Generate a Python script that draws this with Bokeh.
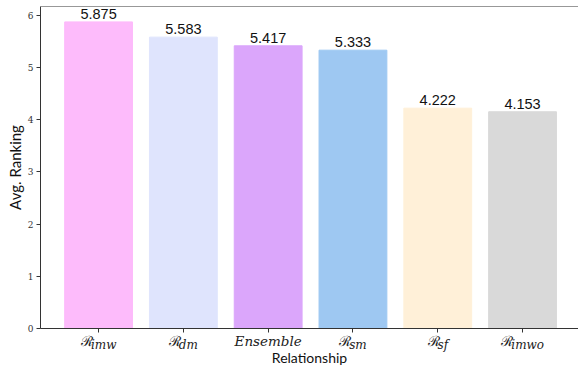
from bokeh.plotting import figure
from bokeh.layouts import column
from bokeh.models import ColumnDataSource, LinearAxis, Range1d, FixedTicker, Span
from bokeh.core.properties import value
from bokeh.embed import file_html
from bokeh.resources import INLINE

# data
mains = ["ℛ", "ℛ", "Ensemble", "ℛ", "ℛ", "ℛ"]
subs = ["imw", "dm", "", "sm", "sf", "imwo"]
scores = [5.875, 5.583, 5.417, 5.333, 4.222, 4.153]
score_labels = ["5.875", "5.583", "5.417", "5.333", "4.222", "4.153"]
colors = ["#FDBBFB", "#DFE4FD", "#DBA6FB", "#9EC8F2", "#FFF0D8", "#D9D9D9"]
y_ticks = [0, 1, 2, 3, 4, 5, 6]
x_title = "Relationship"
y_title = "Avg. Ranking"
y_max = 6.17

xs = list(range(len(scores)))
src = ColumnDataSource(dict(x=xs, top=scores, color=colors, lab=score_labels))
x_range = Range1d(-0.685, 5.66)

# ---------------- main chart ----------------
p = figure(width=578, height=333, output_backend="svg", toolbar_location=None,
           x_range=x_range, y_range=Range1d(0, y_max),
           x_axis_location=None, y_axis_location=None,
           min_border_left=40, min_border_right=0, min_border_top=6, min_border_bottom=5)
p.grid.visible = False
p.outline_line_color = None
p.background_fill_color = "white"

p.vbar(x="x", top="top", width=0.8, color="color", source=src)
p.text(x="x", y="top", text="lab", source=src, text_align="center", text_baseline="middle",
       y_offset=-8, text_font=value("Liberation Sans"), text_font_size="14.5px", text_color="#111111")

ya = LinearAxis(ticker=FixedTicker(ticks=y_ticks), axis_label=y_title)
ya.axis_label_text_font = "Lato"
ya.axis_label_text_font_size = "15px"
ya.axis_label_text_font_style = "normal"
ya.axis_label_text_color = "#111111"
ya.axis_label_standoff = 1
ya.major_label_text_font = "DejaVu Serif"
ya.major_label_text_font_size = "9px"
ya.major_label_text_color = "#333333"
ya.major_label_standoff = 3
ya.major_tick_out = 4
ya.major_tick_in = 0
ya.minor_tick_line_color = None
ya.axis_line_color = "#333333"
ya.major_tick_line_color = "#333333"
p.add_layout(ya, "left")

xa = LinearAxis(ticker=FixedTicker(ticks=xs))
xa.major_label_overrides = {i: "" for i in xs}
xa.major_label_text_font_size = "0px"
xa.major_label_standoff = 0
xa.major_tick_out = 4
xa.major_tick_in = 0
xa.minor_tick_line_color = None
xa.axis_line_color = "#333333"
xa.major_tick_line_color = "#333333"
p.add_layout(xa, "below")

p.add_layout(Span(location=y_max, dimension="width", line_color="#333333", line_width=1))

# ---------------- category labels strip ----------------
H2 = 36
q = figure(width=578, height=H2, output_backend="svg", toolbar_location=None,
           x_range=x_range, y_range=Range1d(0, H2),
           x_axis_location=None, y_axis_location=None,
           min_border_left=40, min_border_right=0, min_border_top=0, min_border_bottom=0)
q.grid.visible = False
q.outline_line_color = None
q.background_fill_color = "white"

em = {"i": 0.32, "m": 0.95, "w": 0.83, "d": 0.64, "s": 0.51, "f": 0.35, "o": 0.6}
R_SIZE, SUB_SIZE, R_W = 14, 12, 10

for i, (m, s) in enumerate(zip(mains, subs)):
    if s == "":
        q.text(x=[i], y=[28.5], text=[m], text_align="center", text_baseline="middle",
               text_font=value("DejaVu Serif"), text_font_style="italic",
               text_font_size="13.5px", text_color="#222222")
    else:
        ws = sum(em[c] for c in s) * SUB_SIZE
        left = -(R_W + ws) / 2
        q.text(x=[i], y=[29], text=[m], x_offset=left, text_align="left",
               text_baseline="middle", text_font=value("DejaVu Serif"),
               text_font_size=f"{R_SIZE}px", text_color="#222222")
        q.text(x=[i], y=[25], text=[s], x_offset=left + R_W, text_align="left",
               text_baseline="middle", text_font=value("DejaVu Serif"),
               text_font_style="italic", text_font_size=f"{SUB_SIZE}px", text_color="#222222")

q.text(x=[(x_range.start + x_range.end) / 2], y=[12], text=[x_title], text_align="center",
       text_baseline="middle", text_font=value("Lato"), text_font_size="14px",
       text_color="#111111")

layout = column(p, q, spacing=0)
open("out.html", "w").write(file_html(layout, INLINE))
